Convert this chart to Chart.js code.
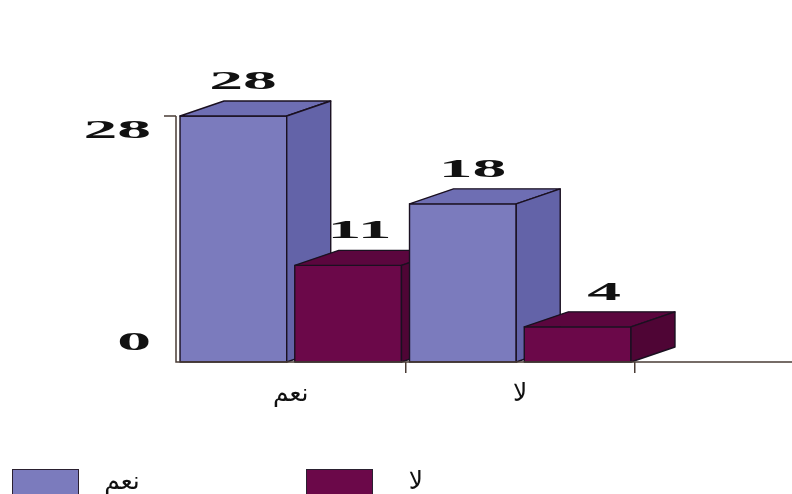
<!DOCTYPE html>
<html lang="ar">
<head>
  <meta charset="UTF-8">
  <title>نعم / لا</title>
  <script src="https://cdn.jsdelivr.net/npm/chart.js"></script>
  <style>
    html, body { margin: 0; padding: 0; background: #fff; }
    #chart { display: block; }
  </style>
</head>
<body>
  <canvas id="chart" width="792" height="494"></canvas>
  <script>
    const categories = ['نعم', 'لا'];
    const seriesNames = ['نعم', 'لا'];
    const yesValues = [28, 18];
    const noValues = [11, 4];
    const yTicks = [0, 28];

    // front / top / side shades for each series
    const shades = [
      { front: '#7b7bbd', top: '#6e6eb3', side: '#6363a8' },
      { front: '#6b0849', top: '#5b063e', side: '#4f0535' }
    ];
    const depthX = 44;
    const depthY = 15;

    // wide serif digits used for value labels and the y axis
    function wideText(ctx, text, x, y, align) {
      const sx = 2.6;
      ctx.save();
      ctx.font = 'bold 26px "Liberation Serif"';
      ctx.fillStyle = '#111';
      ctx.textBaseline = 'alphabetic';
      ctx.textAlign = align;
      ctx.translate(x, y);
      ctx.scale(sx, 1);
      ctx.fillText(text, 0, 0);
      ctx.restore();
    }

    const bars3d = {
      id: 'bars3d',
      beforeDatasetsDraw(chart) {
        const ctx = chart.ctx;
        const bars = [];
        chart.data.datasets.forEach((ds, i) => {
          chart.getDatasetMeta(i).data.forEach((el, j) => {
            bars.push({ el, shade: shades[i], value: ds.data[j] });
          });
        });
        bars.sort((a, b) => a.el.x - b.el.x);

        ctx.save();
        ctx.lineWidth = 1.4;
        ctx.strokeStyle = '#1a1020';
        ctx.lineJoin = 'round';
        bars.forEach(({ el, shade }) => {
          const L = el.x - el.width / 2;
          const R = el.x + el.width / 2;
          const T = el.y;
          const B = el.base;
          // front
          ctx.fillStyle = shade.front;
          ctx.fillRect(L, T, R - L, B - T);
          ctx.strokeRect(L, T, R - L, B - T);
          // top
          ctx.beginPath();
          ctx.moveTo(L, T);
          ctx.lineTo(L + depthX, T - depthY);
          ctx.lineTo(R + depthX, T - depthY);
          ctx.lineTo(R, T);
          ctx.closePath();
          ctx.fillStyle = shade.top;
          ctx.fill();
          ctx.stroke();
          // side
          ctx.beginPath();
          ctx.moveTo(R, T);
          ctx.lineTo(R + depthX, T - depthY);
          ctx.lineTo(R + depthX, B - depthY);
          ctx.lineTo(R, B);
          ctx.closePath();
          ctx.fillStyle = shade.side;
          ctx.fill();
          ctx.stroke();
        });
        ctx.restore();

        // value labels
        bars.forEach(({ el, value }) => {
          wideText(ctx, String(value), el.x + el.width / 2 - 10, el.y - depthY - 12, 'right');
        });
        return false;
      },
      afterDraw(chart) {
        const ctx = chart.ctx;
        const area = chart.chartArea;
        const y = chart.scales.y;
        const topPx = y.getPixelForValue(yTicks[yTicks.length - 1]);

        // axes
        ctx.save();
        ctx.strokeStyle = '#4a3c36';
        ctx.lineWidth = 1.5;
        ctx.beginPath();
        ctx.moveTo(area.left, topPx);
        ctx.lineTo(area.left, area.bottom);
        ctx.lineTo(chart.width, area.bottom);
        ctx.moveTo(area.left - 12, topPx);
        ctx.lineTo(area.left, topPx);
        ctx.stroke();
        ctx.restore();

        // y tick labels
        yTicks.forEach(v => {
          const py = y.getPixelForValue(v);
          const shift = v === 0 ? -12 : 22;
          wideText(ctx, String(v), area.left - 25, py + shift, 'right');
        });

        // legend
        const legendX = [12, 306];
        const legendTextX = [122, 416];
        ctx.save();
        chart.data.datasets.forEach((ds, i) => {
          const bx = legendX[i];
          ctx.fillStyle = shades[i].front;
          ctx.strokeStyle = '#2a2030';
          ctx.lineWidth = 1;
          ctx.fillRect(bx, 469, 66, 30);
          ctx.strokeRect(bx + 0.5, 469.5, 66, 30);
          ctx.fillStyle = '#111';
          ctx.font = '25px "DejaVu Sans"';
          ctx.textAlign = 'center';
          ctx.textBaseline = 'alphabetic';
          ctx.fillText(ds.label, legendTextX[i], 489);
        });
        ctx.restore();
      }
    };

    new Chart(document.getElementById('chart'), {
      type: 'bar',
      data: {
        labels: categories,
        datasets: [
          { label: seriesNames[0], data: yesValues, backgroundColor: shades[0].front },
          { label: seriesNames[1], data: noValues, backgroundColor: shades[1].front }
        ]
      },
      options: {
        responsive: false,
        animation: false,
        layout: { padding: { left: 176, right: 157, top: 116, bottom: 0 } },
        datasets: { bar: { categoryPercentage: 1.0, barPercentage: 0.93 } },
        plugins: { legend: { display: false }, tooltip: { enabled: false } },
        scales: {
          x: {
            afterFit(scale) { scale.height = 132; },
            grid: {
              offset: true,
              drawOnChartArea: false,
              tickLength: 11,
              color: c => (c.index === 0 ? 'rgba(0,0,0,0)' : '#4a3c36'),
              lineWidth: 1.5
            },
            border: { display: false },
            ticks: { color: '#111', padding: 6, font: { family: 'DejaVu Sans', size: 25 } }
          },
          y: { display: false, min: 0, max: 28 }
        }
      },
      plugins: [bars3d]
    });
  </script>
</body>
</html>
